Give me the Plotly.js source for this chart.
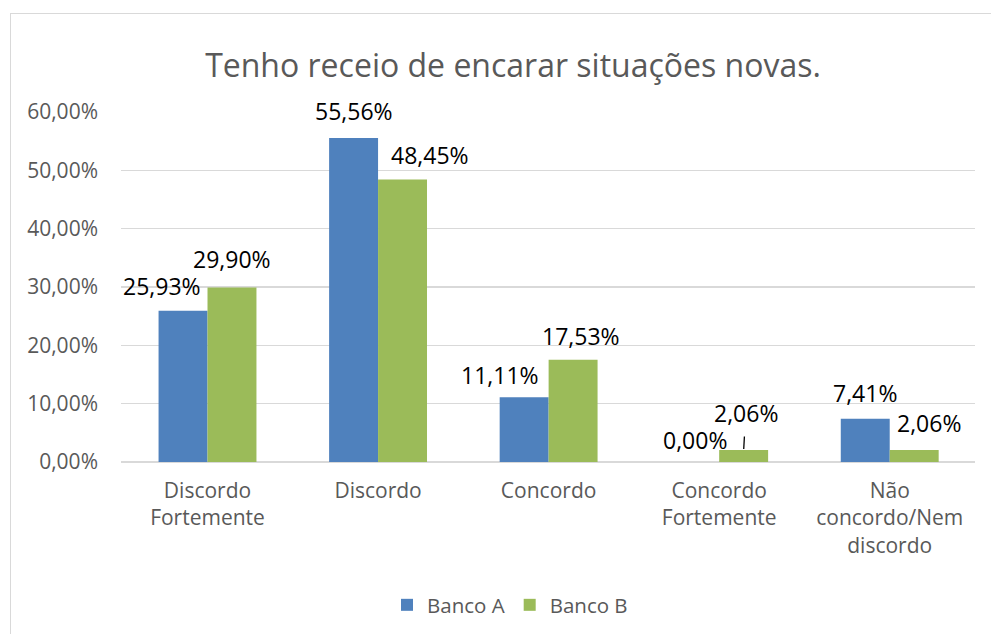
<!DOCTYPE html>
<html>
<head>
<meta charset="utf-8">
<script src="https://cdn.plot.ly/plotly-3.0.1.min.js"></script>
<style>
  html, body { margin: 0; padding: 0; background: #ffffff; overflow: hidden; }
  #chart { position: absolute; left: 0; top: 0; width: 991px; height: 634px; }
  #frame { position: absolute; left: 10px; top: 13px; width: 1100px; height: 800px;
           border-left: 1px solid #d9d9d9; border-top: 1px solid #d9d9d9; pointer-events: none; }
</style>
</head>
<body>
<div id="chart"></div>
<div id="frame"></div>
<script>
const categories = ['Discordo<br>Fortemente', 'Discordo', 'Concordo', 'Concordo<br>Fortemente', 'Não<br>concordo/Nem<br>discordo'];
const bancoA = [0.2593, 0.5556, 0.1111, 0.0000, 0.0741];
const bancoB = [0.2990, 0.4845, 0.1753, 0.0206, 0.0206];
const seriesNames = ['Banco A', 'Banco B'];
const yTickVals = [0, 0.1, 0.2, 0.3, 0.4, 0.5, 0.6];

// label placement tweaks (pixels) as in the reference
const labelDxA = [-21, 0, -24, 0, 0];
const labelDyA = [25, 27, 22, 22, 26];
const labelDxB = [0, 27, 8, 2, 15];
const labelDyB = [29, 24, 24, 37, 27];

const colors = ['#4F81BD', '#9BBB59'];
const margin = {l: 121, r: 16, t: 112, b: 172};
const W = 991, H = 634;
const bargap = 0.426;
const catW = (W - margin.l - margin.r) / categories.length;
const barOff = catW * (1 - bargap) / 4;

function fmt(v) { return (v * 100).toFixed(2).replace('.', ',') + '%'; }

const traces = [bancoA, bancoB].map((vals, k) => ({
  type: 'bar', name: seriesNames[k], x: categories, y: vals,
  marker: {color: colors[k]}, hoverinfo: 'skip'
}));

const annotations = [];
[bancoA, bancoB].forEach((vals, k) => {
  const dx = k === 0 ? labelDxA : labelDxB;
  const dy = k === 0 ? labelDyA : labelDyB;
  vals.forEach((v, i) => {
    const withLeader = (k === 1 && i === 3);
    const a = {
      x: i, y: v, xref: 'x', yref: 'y',
      text: fmt(v),
      font: {family: 'Open Sans, sans-serif', size: 23, color: '#000000'},
      xshift: (k === 0 ? -barOff : barOff),
      showarrow: false
    };
    if (withLeader) {
      a.showarrow = true; a.arrowhead = 0; a.arrowwidth = 1.3; a.arrowcolor = '#000000';
      a.ax = dx[i]; a.ay = -dy[i]; a.axref = 'pixel'; a.ayref = 'pixel';
      a.standoff = 1; a.startstandoff = 6;
    } else {
      a.xshift += dx[i]; a.yshift = dy[i];
    }
    annotations.push(a);
  });
});

const layout = {
  width: W, height: H,
  margin: margin,
  paper_bgcolor: '#ffffff', plot_bgcolor: '#ffffff',
  separators: ',.',
  font: {family: 'Open Sans, sans-serif', color: '#595959'},
  title: {
    text: 'Tenho receio de encarar situações novas.',
    font: {family: 'Open Sans, sans-serif', size: 32, color: '#595959'},
    x: 513 / W, xref: 'container', xanchor: 'center',
    y: 1 - 66 / H, yref: 'container', yanchor: 'middle'
  },
  barmode: 'group', bargap: bargap, bargroupgap: 0,
  showlegend: true,
  legend: {
    orientation: 'h', x: 510 / W, xref: 'container', xanchor: 'center',
    y: 1 - 605 / H, yref: 'container', yanchor: 'middle',
    font: {family: 'Open Sans, sans-serif', size: 20.5, color: '#595959'},
    itemwidth: 30, traceorder: 'normal'
  },
  xaxis: {
    type: 'category', showgrid: false, zeroline: false, showline: false,
    ticks: '', tickfont: {family: 'Open Sans, sans-serif', size: 21, color: '#595959'},
    ticklabelstandoff: 14, fixedrange: true
  },
  yaxis: {
    range: [0, 0.6], tickvals: yTickVals, tickformat: '.2%',
    showgrid: true, gridcolor: '#d9d9d9', gridwidth: 1.3,
    zeroline: true, zerolinecolor: '#d9d9d9', zerolinewidth: 1.3,
    showline: false, ticks: '',
    tickfont: {family: 'Open Sans, sans-serif', size: 21, color: '#595959'},
    ticklabelstandoff: 22, fixedrange: true
  },
  annotations: annotations
};

Plotly.newPlot('chart', traces, layout, {staticPlot: true, displayModeBar: false});
</script>
</body>
</html>
